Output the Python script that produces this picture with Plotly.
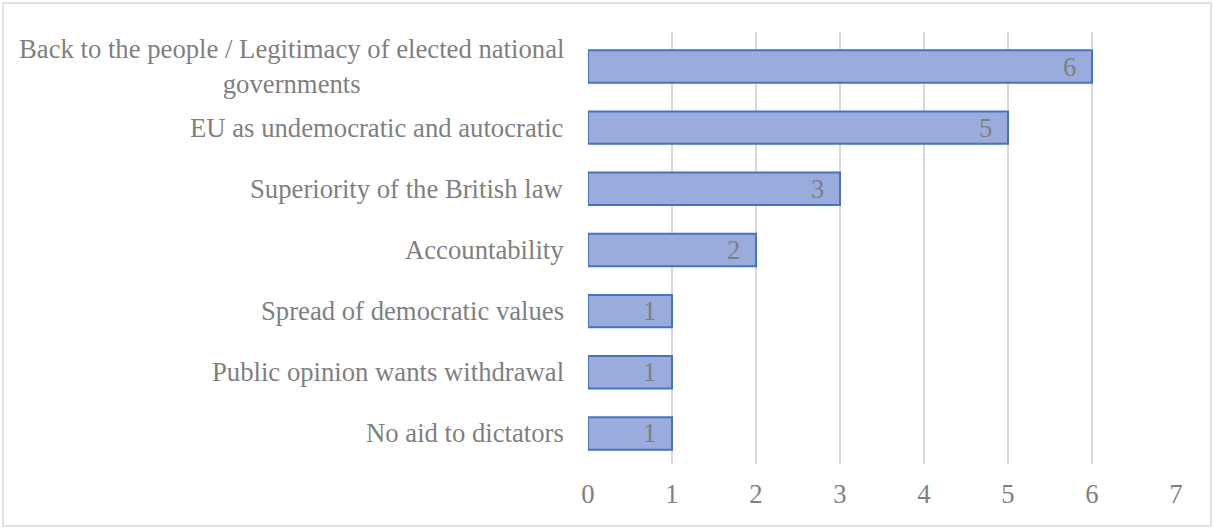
import plotly.graph_objects as go

categories = [
    "Back to the people / Legitimacy of elected national<br>governments",
    "EU as undemocratic and autocratic",
    "Superiority of the British law",
    "Accountability",
    "Spread of democratic values",
    "Public opinion wants withdrawal",
    "No aid to dictators",
]
counts = [6, 5, 3, 2, 1, 1, 1]
x_ticks = [0, 1, 2, 3, 4, 5, 6, 7]

W, H = 1213, 528
L, R, T, B = 588, 37, 32, 64
FONT = "Liberation Serif, Times New Roman, serif"
FS = 26.7
GRAY = "#7f7f7f"

fig = go.Figure(
    go.Bar(
        x=counts,
        y=categories,
        orientation="h",
        width=0.53,
        marker=dict(color="#9aacdc", line=dict(color="#4472c4", width=2)),
        hoverinfo="skip",
    )
)

# value labels near the inner end of each bar
for c, v in zip(categories, counts):
    fig.add_annotation(
        x=v, xref="x", y=c, yref="y",
        xanchor="right", yanchor="middle", xshift=-14,
        text=str(v), showarrow=False,
        font=dict(family=FONT, size=FS, color=GRAY),
    )

# category labels as centred multi-line annotations
for c in categories:
    fig.add_annotation(
        x=0, xref="paper", y=c, yref="y",
        xanchor="right", yanchor="middle", xshift=-22,
        text=c, showarrow=False, align="center",
        font=dict(family=FONT, size=FS, color=GRAY),
    )

# outer chart border
pw, ph = W - L - R, H - T - B
fig.add_shape(
    type="rect", xref="paper", yref="paper",
    x0=(3 - L) / pw, x1=(1211 - L) / pw,
    y0=-(526 - T - ph) / ph, y1=1 + (T - 3) / ph,
    line=dict(color="#d9d9d9", width=1.5), fillcolor="rgba(0,0,0,0)",
)

fig.update_layout(
    width=W, height=H,
    margin=dict(l=L, r=R, t=T, b=B),
    paper_bgcolor="white", plot_bgcolor="white",
    showlegend=False,
)
fig.update_xaxes(
    range=[0, 7], tickvals=x_ticks,
    showgrid=True, gridcolor="#d9d9d9", gridwidth=1.5,
    zeroline=False, showline=False,
    tickfont=dict(family=FONT, size=FS, color=GRAY),
    ticklabelstandoff=11,
)
fig.update_yaxes(
    autorange="reversed", showticklabels=False,
    showgrid=False, zeroline=False, showline=False,
)

fig.write_html("out.html")
